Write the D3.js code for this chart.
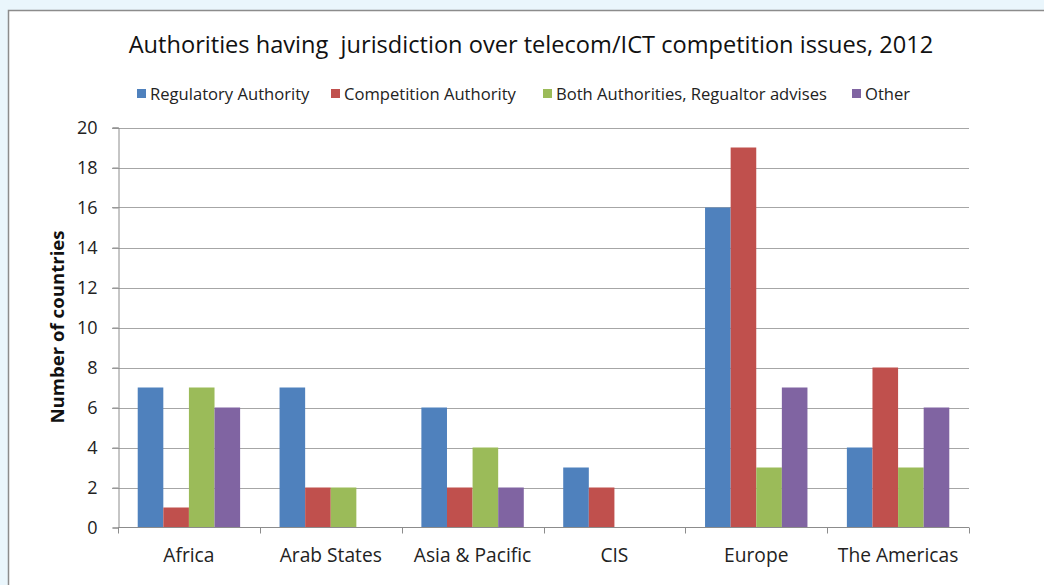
<!DOCTYPE html>
<html><head><meta charset="utf-8">
<script src="https://cdn.jsdelivr.net/npm/d3@7"></script>
<style>body{margin:0;background:#eaf6fc;overflow:hidden}svg{display:block}</style>
</head><body><svg id="c" width="1044" height="585"></svg>
<script>
const categories = ["Africa","Arab States","Asia & Pacific","CIS","Europe","The Americas"];
const seriesNames = ["Regulatory Authority","Competition Authority","Both Authorities, Regualtor advises","Other"];
const regulatory = [7,7,6,3,16,4];
const competition = [1,2,2,2,19,8];
const both = [7,2,4,0,3,3];
const other = [6,0,2,0,7,6];
const yTicks = [0,2,4,6,8,10,12,14,16,18,20];
const colors = ["#4f81bd","#c0504d","#9bbb59","#8064a2"];
const title = "Authorities having  jurisdiction over telecom/ICT competition issues, 2012";
const yTitle = "Number of countries";

const series = [regulatory, competition, both, other];
const font = "'Open Sans', sans-serif";
const svg = d3.select("#c");
svg.append("rect").attr("x",8.5).attr("y",10.5).attr("width",1100).attr("height",700)
  .attr("fill","#fff").attr("stroke","#8c8c8c").attr("stroke-width",1.5);

const x0 = d3.scaleBand().domain(categories).range([118,969]).paddingInner(0).paddingOuter(0);
const x1 = d3.scaleBand().domain(d3.range(4)).range([0,x0.bandwidth()]).paddingOuter(0.77).paddingInner(0);
const y = d3.scaleLinear().domain([0,20]).range([527.5,127.5]);

// gridlines
svg.append("g").selectAll("line").data(yTicks.slice(1)).join("line")
  .attr("x1",112).attr("x2",969).attr("y1",d=>Math.round(y(d))+0.5).attr("y2",d=>Math.round(y(d))+0.5)
  .attr("stroke","#a6a6a6").attr("stroke-width",1);

// bars
const g = svg.append("g");
categories.forEach((c,ci)=>{
  series.forEach((s,si)=>{
    if(s[ci]<=0) return;
    g.append("rect").attr("x",x0(c)+x1(si)).attr("width",x1.bandwidth())
      .attr("y",y(s[ci])).attr("height",y(0)-y(s[ci])).attr("fill",colors[si]);
  });
});

// y axis
const yAxis = d3.axisLeft(y).tickValues(yTicks).tickSize(6).tickPadding(15).tickFormat(d3.format("d"));
const ya = svg.append("g").attr("transform","translate(118.5,0)").call(yAxis);
ya.select(".domain").attr("stroke","#8c8c8c");
ya.selectAll(".tick line").attr("stroke","#8c8c8c");
ya.selectAll("text").attr("font-family",font).attr("font-size",18).attr("fill","#222");

// x axis
const xa = svg.append("g").attr("transform","translate(0,527.5)");
xa.append("line").attr("x1",118).attr("x2",969).attr("stroke","#8c8c8c");
xa.selectAll("line.t").data(d3.range(7)).join("line").attr("class","t")
  .attr("x1",i=>Math.round(118+i*x0.bandwidth())+0.5).attr("x2",i=>Math.round(118+i*x0.bandwidth())+0.5)
  .attr("y1",0).attr("y2",6).attr("stroke","#8c8c8c");
xa.selectAll("text").data(categories).join("text")
  .attr("x",d=>x0(d)+x0.bandwidth()/2).attr("y",34.5).attr("text-anchor","middle")
  .attr("font-family",font).attr("font-size",19.2).attr("fill","#222").text(d=>d);

// titles
svg.append("text").attr("x",531).attr("y",52.5).attr("text-anchor","middle")
  .attr("font-family",font).attr("font-size",23.6).attr("fill","#111").text(title).style("white-space","pre").attr("xml:space","preserve");
svg.append("text").attr("transform","translate(64,327) rotate(-90)").attr("text-anchor","middle")
  .attr("font-family",font).attr("font-size",18.6).attr("font-weight","bold").attr("fill","#111").text(yTitle);

// legend
const legX = [137,331,543,852];
const lg = svg.append("g");
seriesNames.forEach((n,i)=>{
  lg.append("rect").attr("x",legX[i]).attr("y",89).attr("width",9).attr("height",9).attr("fill",colors[i]);
  lg.append("text").attr("x",legX[i]+13).attr("y",99.5).attr("font-family",font).attr("font-size",16.6).attr("fill","#222").text(n);
});
</script></body></html>
